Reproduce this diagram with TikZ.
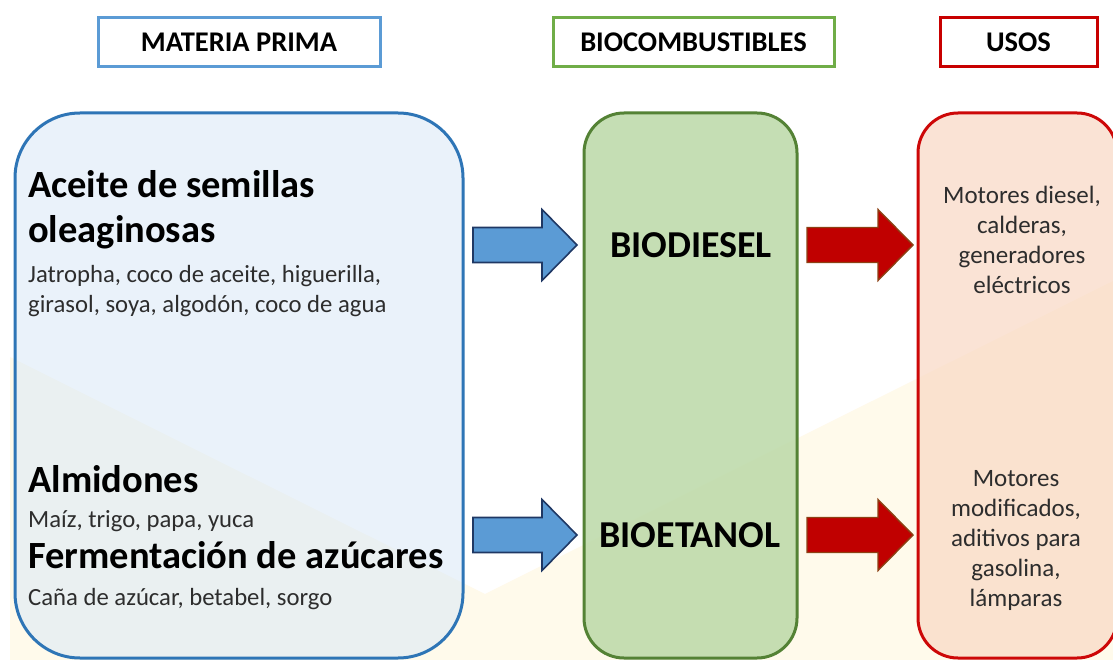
\documentclass[tikz,border=0pt]{standalone}
\usepackage{fontspec}
\setmainfont{Carlito}
\usetikzlibrary{calc}
\definecolor{cream}{RGB}{255,250,235}
\definecolor{lbfill}{RGB}{215,231,247}
\definecolor{lbdraw}{RGB}{46,117,182}
\definecolor{hblue}{RGB}{91,155,213}
\definecolor{hgreen}{RGB}{112,173,71}
\definecolor{hred}{RGB}{200,0,0}
\definecolor{gfill}{RGB}{187,217,167}
\definecolor{gdraw}{RGB}{84,130,53}
\definecolor{rfill}{RGB}{249,216,196}
\definecolor{rdraw}{RGB}{205,8,8}
\definecolor{abfill}{RGB}{91,155,213}
\definecolor{abdraw}{RGB}{31,56,100}
\definecolor{arfill}{RGB}{192,0,0}
\definecolor{ardraw}{RGB}{140,65,20}
\definecolor{txt}{RGB}{45,45,45}
\tikzset{
  hdr/.style={draw, line width=3pt, fill=white, minimum height=49pt, inner sep=0pt,
    font=\bfseries\fontsize{28.5}{34}\selectfont},
  bigbox/.style={draw, line width=3pt, minimum height=545pt, inner sep=0pt},
  hl/.style={anchor=base west, inner sep=0pt, font=\bfseries\fontsize{38.5}{46}\selectfont},
  sl/.style={anchor=base west, inner sep=0pt, text=txt, font=\fontsize{24.7}{30}\selectfont},
  fuel/.style={anchor=base, inner sep=0pt, font=\bfseries\fontsize{38}{46}\selectfont},
  usetxt/.style={anchor=base, inner sep=0pt, text=txt, font=\fontsize{25}{30}\selectfont},
  blockarrow/.style={line join=miter, to path={
    ($(\tikztostart)+(0,-17.5)$) -- ($(\tikztotarget)+(-35,-17.5)$)
    -- ($(\tikztotarget)+(-35,-35.5)$) -- (\tikztotarget)
    -- ($(\tikztotarget)+(-35,35.5)$) -- ($(\tikztotarget)+(-35,17.5)$)
    -- ($(\tikztostart)+(0,17.5)$) -- cycle}},
  barrow/.style={blockarrow, fill=abfill, draw=abdraw, line width=1.6pt},
  rarrow/.style={blockarrow, fill=arfill, draw=ardraw, line width=1.4pt}
}
\begin{document}
\begin{tikzpicture}[x=1pt,y=-1pt]
\useasboundingbox (0,0) rectangle (1113,660);
\fill[white] (0,0) rectangle (1113,660);
\fill[cream] (10,660) -- (10,357) -- (485,594) -- (1113,281) -- (1113,660) -- cycle;

% headers
\node[hdr, draw=hblue, minimum width=282pt] (hmp) at (239,42.5) {MATERIA PRIMA};
\node[hdr, draw=hgreen, minimum width=281pt] (hbc) at (693.5,42.5) {BIOCOMBUSTIBLES};
\node[hdr, draw=hred, minimum width=157pt] (hus) at (1018.5,42.5) {USOS};

% big boxes
\node[bigbox, draw=lbdraw, fill=lbfill, fill opacity=0.5, rounded corners=65pt,
      minimum width=448pt] (L) at (239,385.5) {};
\node[bigbox, draw=gdraw, fill=gfill, fill opacity=0.85, rounded corners=40pt,
      minimum width=213pt] (G) at (690.5,385.5) {};
\node[bigbox, draw=rdraw, fill=rfill, fill opacity=0.7, rounded corners=40pt,
      minimum width=199pt] (R) at (1017.5,385.5) {};

% left texts
\node[hl] (a1) at (28,198) {Aceite de semillas};
\node[hl] (a2) at (28,243) {oleaginosas};
\node[sl] (a3) at (28,282) {Jatropha, coco de aceite, higuerilla,};
\node[sl] (a4) at (28,312) {girasol, soya, algodón, coco de agua};
\node[hl] (b1) at (28,492) {Almidones};
\node[sl] (b2) at (28,527) {Maíz, trigo, papa, yuca};
\node[hl] (b3) at (28,568) {Fermentación de azúcares};
\node[sl] (b4) at (28,605) {Caña de azúcar, betabel, sorgo};

% fuels
\node[fuel] (bd) at (691,258) {BIODIESEL};
\node[fuel] (be) at (690,547) {BIOETANOL};

% uses
\node[usetxt] (u1) at (1022,204) {Motores diesel,};
\node[usetxt] (u2) at (1022,234) {calderas,};
\node[usetxt] (u3) at (1022,264) {generadores};
\node[usetxt] (u4) at (1022,294) {eléctricos};
\node[usetxt] (v1) at (1016,486) {Motores};
\node[usetxt] (v2) at (1016,516) {modificados,};
\node[usetxt] (v3) at (1016,546) {aditivos para};
\node[usetxt] (v4) at (1016,576) {gasolina,};
\node[usetxt] (v5) at (1016,606) {lámparas};

% arrow end points
\coordinate (ab1) at (473,245);
\coordinate (at1) at (577,245);
\coordinate (ab2) at (473,535);
\coordinate (at2) at (577,535);
\coordinate (rb1) at (807,245);
\coordinate (rt1) at (913,245);
\coordinate (rb2) at (807,535);
\coordinate (rt2) at (913,535);

\draw[barrow] (ab1) to (at1);
\draw[barrow] (ab2) to (at2);
\draw[rarrow] (rb1) to (rt1);
\draw[rarrow] (rb2) to (rt2);
\end{tikzpicture}
\end{document}
